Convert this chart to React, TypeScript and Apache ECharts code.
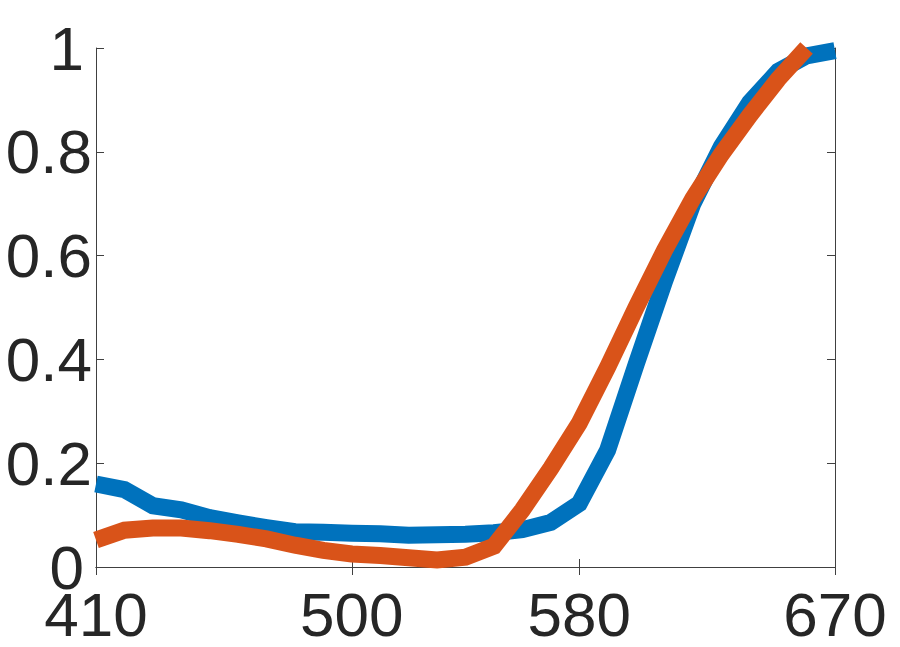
import React, { useEffect, useRef } from "react";
import * as echarts from "echarts";

const wavelengthsBlue = [410, 420, 430, 440, 450, 460, 470, 480, 490, 500, 510, 520, 530, 540, 550, 560, 570, 580, 590, 600, 610, 620, 630, 640, 650, 660, 670];
const blueValues = [0.16, 0.149, 0.118, 0.11, 0.095, 0.085, 0.076, 0.068, 0.067, 0.065, 0.064, 0.061, 0.062, 0.063, 0.066, 0.072, 0.086, 0.122, 0.225, 0.39, 0.55, 0.70, 0.81, 0.895, 0.955, 0.985, 0.995];

const wavelengthsOrange = [410, 420, 430, 440, 450, 460, 470, 480, 490, 500, 510, 520, 530, 540, 550, 560, 570, 580, 590, 600, 610, 620, 630, 640, 650, 660];
const orangeValues = [0.052, 0.071, 0.075, 0.075, 0.07, 0.063, 0.054, 0.042, 0.032, 0.025, 0.022, 0.018, 0.0135, 0.019, 0.04, 0.11, 0.19, 0.277, 0.385, 0.5, 0.61, 0.71, 0.795, 0.87, 0.94, 1.0];

const xTicks = [410, 500, 580, 670];

const AXIS_COLOR = "#404040";
const TEXT_COLOR = "#262626";
const FONT = "'Liberation Sans', Arial, Helvetica, sans-serif";

export default function App() {
  const ref = useRef<HTMLDivElement>(null);
  useEffect(() => {
    if (!ref.current) return;
    const chart = echarts.init(ref.current, undefined, { renderer: "svg" });
    const tickCommon = { inside: true, length: 8, lineStyle: { color: AXIS_COLOR, width: 1 } };
    const lineCommon = { show: true, lineStyle: { color: AXIS_COLOR, width: 1 } };
    chart.setOption({
      animation: false,
      backgroundColor: "#ffffff",
      grid: { left: 96, top: 48, right: 65, bottom: 80, containLabel: false },
      xAxis: [
        {
          type: "value",
          position: "bottom",
          min: 410,
          max: 670,
          axisLine: lineCommon,
          axisTick: { ...tickCommon, customValues: xTicks },
          splitLine: { show: false },
          axisLabel: {
            customValues: xTicks,
            fontSize: 62,
            lineHeight: 46,
            fontFamily: FONT,
            color: TEXT_COLOR,
            margin: 24,
          },
        },
        {
          type: "value",
          position: "top",
          min: 410,
          max: 670,
          axisLine: lineCommon,
          axisTick: { ...tickCommon, customValues: xTicks },
          splitLine: { show: false },
          axisLabel: { show: false },
        },
      ],
      yAxis: [
        {
          type: "value",
          position: "left",
          min: 0,
          max: 1,
          interval: 0.2,
          axisLine: lineCommon,
          axisTick: tickCommon,
          splitLine: { show: false },
          axisLabel: {
            fontSize: 62,
            lineHeight: 44,
            fontFamily: FONT,
            color: TEXT_COLOR,
            margin: 4,
            formatter: (v: number) => (v === 0 || v === 1 ? `{i|${v}}` : `{d|${+v.toFixed(1)}}`),
            rich: {
              i: { fontSize: 62, lineHeight: 44, fontFamily: FONT, color: TEXT_COLOR, padding: [0, 8, 0, 0] },
              d: { fontSize: 62, lineHeight: 44, fontFamily: FONT, color: TEXT_COLOR },
            },
          },
        },
        {
          type: "value",
          position: "right",
          min: 0,
          max: 1,
          interval: 0.2,
          axisLine: lineCommon,
          axisTick: tickCommon,
          splitLine: { show: false },
          axisLabel: { show: false },
        },
      ],
      series: [
        {
          type: "line",
          xAxisIndex: 0,
          yAxisIndex: 0,
          data: wavelengthsBlue.map((w, i) => [w, blueValues[i]]),
          showSymbol: false,
          symbol: "none",
          clip: false,
          lineStyle: { color: "#0072BD", width: 17, cap: "butt", join: "miter" },
          z: 2,
        },
        {
          type: "line",
          xAxisIndex: 0,
          yAxisIndex: 0,
          data: wavelengthsOrange.map((w, i) => [w, orangeValues[i]]),
          showSymbol: false,
          symbol: "none",
          clip: false,
          lineStyle: { color: "#D95319", width: 17, cap: "butt", join: "miter" },
          z: 3,
        },
      ],
    });
    return () => chart.dispose();
  }, []);
  return (
    <div
      ref={ref}
      style={{ position: "fixed", left: 0, top: 0, width: 900, height: 647, background: "#fff" }}
    />
  );
}
